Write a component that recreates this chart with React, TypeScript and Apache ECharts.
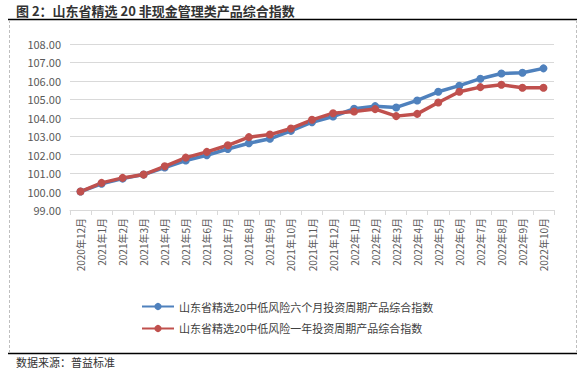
import React, { useEffect, useRef } from "react";
import * as echarts from "echarts";

const categories = [
  "2020年12月", "2021年1月", "2021年2月", "2021年3月", "2021年4月", "2021年5月",
  "2021年6月", "2021年7月", "2021年8月", "2021年9月", "2021年10月", "2021年11月",
  "2021年12月", "2022年1月", "2022年2月", "2022年3月", "2022年4月", "2022年5月",
  "2022年6月", "2022年7月", "2022年8月", "2022年9月", "2022年10月",
];

const sixMonthName = "山东省精选20中低风险六个月投资周期产品综合指数";
const oneYearName = "山东省精选20中低风险一年投资周期产品综合指数";

const sixMonth = [
  100.0, 100.42, 100.7, 100.92, 101.3, 101.68, 101.97, 102.31, 102.62, 102.86, 103.29, 103.76,
  104.07, 104.49, 104.63, 104.56, 104.94, 105.41, 105.74, 106.12, 106.4, 106.44, 106.68,
];

const oneYear = [
  100.0, 100.47, 100.74, 100.92, 101.37, 101.84, 102.15, 102.51, 102.95, 103.09, 103.42, 103.89,
  104.25, 104.34, 104.47, 104.09, 104.21, 104.83, 105.41, 105.66, 105.79, 105.63, 105.63,
];

const titleText = "图 2：山东省精选 20 非现金管理类产品综合指数";
const sourceText = "数据来源：普益标准";

export default function App() {
  const ref = useRef<HTMLDivElement>(null);
  useEffect(() => {
    if (!ref.current) return;
    const chart = echarts.init(ref.current, undefined, { renderer: "svg" });
    const font = "'Noto Sans CJK SC', sans-serif";
    chart.setOption({
      animation: false,
      backgroundColor: "#ffffff",
      textStyle: { fontFamily: font },
      grid: { left: 70, right: 33, top: 44, bottom: 161, containLabel: false },
      legend: {
        orient: "vertical",
        left: 136,
        top: 296,
        itemWidth: 32,
        itemHeight: 9,
        itemGap: 11,
        textStyle: { fontSize: 11, color: "#404040", fontFamily: font },
        data: [sixMonthName, oneYearName],
      },
      xAxis: {
        type: "category",
        data: categories,
        boundaryGap: true,
        axisLine: { lineStyle: { color: "#d9d9d9", width: 1 } },
        axisTick: { show: true, alignWithLabel: false, length: 5, lineStyle: { color: "#d9d9d9" } },
        axisLabel: { rotate: 90, fontSize: 10, color: "#595959", margin: 8, interval: 0 },
      },
      yAxis: {
        type: "value",
        min: 99,
        max: 108,
        interval: 1,
        axisLine: { show: false },
        axisTick: { show: false },
        splitLine: { lineStyle: { color: "#d9d9d9", width: 1 } },
        axisLabel: {
          fontSize: 11,
          color: "#595959",
          margin: 9,
          formatter: (v: number) => v.toFixed(2),
        },
      },
      series: [
        {
          name: sixMonthName,
          type: "line",
          data: sixMonth,
          symbol: "circle",
          symbolSize: 8,
          lineStyle: { color: "#4f81bd", width: 3.5 },
          itemStyle: { color: "#4f81bd" },
        },
        {
          name: oneYearName,
          type: "line",
          data: oneYear,
          symbol: "circle",
          symbolSize: 8,
          lineStyle: { color: "#c0504d", width: 3.5 },
          itemStyle: { color: "#c0504d" },
        },
      ],
      graphic: [
        {
          type: "text",
          left: 16,
          top: 4,
          style: { text: titleText, fontSize: 13, fontWeight: "bold", fill: "#333333", fontFamily: font },
        },
        { type: "line", shape: { x1: 8, y1: 19.5, x2: 577, y2: 19.5 }, style: { stroke: "#000", lineWidth: 1.5 } },
        { type: "line", shape: { x1: 8, y1: 353.5, x2: 577, y2: 353.5 }, style: { stroke: "#000", lineWidth: 1.5 } },
        { type: "line", shape: { x1: 9.5, y1: 20, x2: 9.5, y2: 353 }, style: { stroke: "#bfbfbf", lineWidth: 1, lineDash: [3, 2] } },
        { type: "line", shape: { x1: 576.5, y1: 20, x2: 576.5, y2: 353 }, style: { stroke: "#bfbfbf", lineWidth: 1, lineDash: [3, 2] } },
        {
          type: "text",
          left: 16,
          top: 356,
          style: { text: sourceText, fontSize: 11, fill: "#333333", fontFamily: font },
        },
      ],
    });
    return () => chart.dispose();
  }, []);
  return <div ref={ref} style={{ width: 587, height: 371, position: "absolute", left: 0, top: 0 }} />;
}
